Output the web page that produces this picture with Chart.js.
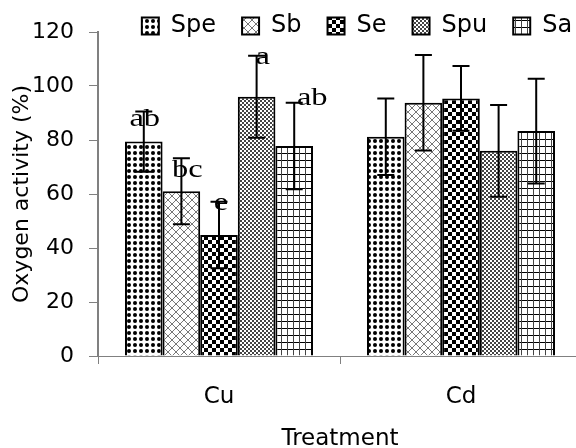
<!DOCTYPE html>
<html>
<head>
<meta charset="utf-8">
<script src="https://cdn.jsdelivr.net/npm/chart.js@4/dist/chart.umd.min.js"></script>
<style>
  html, body { margin: 0; padding: 0; background: #fff; overflow: hidden; }
</style>
</head>
<body>
<canvas id="chart" width="600" height="448"></canvas>
<script>
// values
const categories = ["Cu", "Cd"];
const seriesNames = ["Spe", "Sb", "Se", "Spu", "Sa"];

const spe = [79.4, 81.2];
const sb = [61.0, 93.8];
const se = [44.8, 95.4];
const spu = [96.0, 76.0];
const sa = [77.8, 83.3];

const speErr = [11.2, 14.2];
const sbErr = [12.2, 17.7];
const seErr = [12.3, 12.0];
const spuErr = [15.2, 17.0];
const saErr = [16.0, 19.4];

const speLetters = ["ab", ""];
const sbLetters = ["bc", ""];
const seLetters = ["e", ""];
const spuLetters = ["a", ""];
const saLetters = ["ab", ""];

const yTicks = [0, 20, 40, 60, 80, 100, 120];

const canvas = document.getElementById("chart");
const mainCtx = canvas.getContext("2d");
const SANS = "'DejaVu Sans', sans-serif";

function makePattern(w, h, draw) {
    const c = document.createElement("canvas");
    c.width = w;
    c.height = h;
    const g = c.getContext("2d");
    g.fillStyle = "#fff";
    g.fillRect(0, 0, w, h);
    draw(g);
    return mainCtx.createPattern(c, "repeat");
}

const patterns = [
    // Spe: dots
    makePattern(6, 6, g => {
        g.fillStyle = "#000";
        g.beginPath();
        g.arc(3, 3, 2, 0, Math.PI * 2);
        g.fill();
    }),
    // Sb: light diagonal cross-hatch
    makePattern(8, 8, g => {
        g.strokeStyle = "#777";
        g.lineWidth = 1;
        g.beginPath();
        g.moveTo(0, 0); g.lineTo(8, 8);
        g.moveTo(8, 0); g.lineTo(0, 8);
        g.stroke();
    }),
    // Se: large checker
    makePattern(8, 8, g => {
        g.fillStyle = "#000";
        g.fillRect(0, 0, 4, 4);
        g.fillRect(4, 4, 4, 4);
    }),
    // Spu: fine checker
    makePattern(4, 4, g => {
        g.fillStyle = "#444";
        g.fillRect(0, 0, 2, 2);
        g.fillRect(2, 2, 2, 2);
    }),
    // Sa: grid
    makePattern(6, 7, g => {
        g.fillStyle = "#000";
        g.fillRect(0, 6, 6, 1);
        g.fillStyle = "#444";
        g.fillRect(5, 0, 1, 7);
    }),
];

const values = [spe, sb, se, spu, sa];
const errors = [speErr, sbErr, seErr, spuErr, saErr];
const letters = [speLetters, sbLetters, seLetters, spuLetters, saLetters];

const datasets = seriesNames.map((name, i) => ({
    label: name,
    data: values[i],
    errors: errors[i],
    letters: letters[i],
    backgroundColor: patterns[i],
    borderColor: "#000",
    borderWidth: 2,
    categoryPercentage: 0.777,
    barPercentage: 1.0,
}));

// error bars + significance letters
const errorBars = {
    id: "errorBars",
    afterDatasetsDraw(chart, args, opts) {
        const ctx = chart.ctx;
        const y = chart.scales.y;
        ctx.save();
        ctx.strokeStyle = "#000";
        ctx.lineWidth = 2;
        chart.data.datasets.forEach((ds, i) => {
            chart.getDatasetMeta(i).data.forEach((bar, j) => {
                const top = y.getPixelForValue(ds.data[j] + ds.errors[j]);
                const bot = y.getPixelForValue(ds.data[j] - ds.errors[j]);
                ctx.beginPath();
                ctx.moveTo(bar.x, top); ctx.lineTo(bar.x, bot);
                ctx.moveTo(bar.x - opts.cap, top); ctx.lineTo(bar.x + opts.cap, top);
                ctx.moveTo(bar.x - opts.cap, bot); ctx.lineTo(bar.x + opts.cap, bot);
                ctx.stroke();
            });
        });
        ctx.fillStyle = "#000";
        ctx.font = opts.letterFont;
        ctx.textAlign = "center";
        ctx.textBaseline = "alphabetic";
        chart.data.datasets.forEach((ds, i) => {
            chart.getDatasetMeta(i).data.forEach((bar, j) => {
                if (!ds.letters[j]) return;
                const top = y.getPixelForValue(ds.data[j] + ds.errors[j]);
                const [dx, dy] = opts.nudge[i];
                ctx.save();
                ctx.translate(bar.x + dx, top + dy);
                ctx.scale(opts.stretch, 1);
                ctx.fillText(ds.letters[j], 0, 0);
                ctx.restore();
            });
        });
        ctx.restore();
    },
};

// move the legend row to where the reference has it
const legendNudge = {
    id: "legendNudge",
    afterLayout(chart, args, opts) {
        const lg = chart.legend;
        lg.left += opts.dx;
        lg.right += opts.dx;
        lg.top += opts.dy;
        lg.bottom += 30; // room so the clip doesn't cut the row
    },
};

new Chart(canvas, {
    type: "bar",
    data: { labels: categories, datasets },
    plugins: [errorBars, legendNudge],
    options: {
        responsive: false,
        animation: false,
        devicePixelRatio: 1,
        layout: { padding: { left: 0, right: 18, top: 0, bottom: 0 } },
        plugins: {
            tooltip: { enabled: false },
            legend: {
                position: "top",
                align: "center",
                maxHeight: 32,
                labels: {
                    boxWidth: 17,
                    boxHeight: 17,
                    padding: 26,
                    color: "#000",
                    font: { family: SANS, size: 24 },
                },
            },
            errorBars: {
                cap: 8.5,
                stretch: 1.25,
                letterFont: "26px 'Liberation Serif', serif",
                nudge: [[1, 15], [6, 19], [2, 8], [6, 8], [18, 2]],
            },
            legendNudge: { dx: 66, dy: -12 },
        },
        scales: {
            x: {
                afterFit: s => { s.height = 92; },
                grid: {
                    drawOnChartArea: false,
                    tickLength: 8,
                    color: "#808080",
                },
                border: { color: "#808080", width: 1 },
                ticks: { color: "#000", padding: 19, font: { family: SANS, size: 23 } },
                title: {
                    display: true,
                    text: "Treatment",
                    color: "#000",
                    padding: { top: 0, bottom: -3 },
                    font: { family: SANS, size: 23, lineHeight: 1 },
                },
            },
            y: {
                min: 0,
                max: 120,
                afterFit: s => { s.width = 98; },
                afterBuildTicks: s => { s.ticks = yTicks.map(v => ({ value: v })); },
                grid: {
                    drawOnChartArea: false,
                    tickLength: 9,
                    color: "#808080",
                },
                border: { color: "#808080", width: 2 },
                ticks: { color: "#000", padding: 15, font: { family: SANS, size: 22 } },
                title: {
                    display: true,
                    text: "Oxygen activity (%)",
                    color: "#000",
                    padding: { top: 9, bottom: 0 },
                    font: { family: SANS, size: 22 },
                },
            },
        },
    },
});
</script>
</body>
</html>
